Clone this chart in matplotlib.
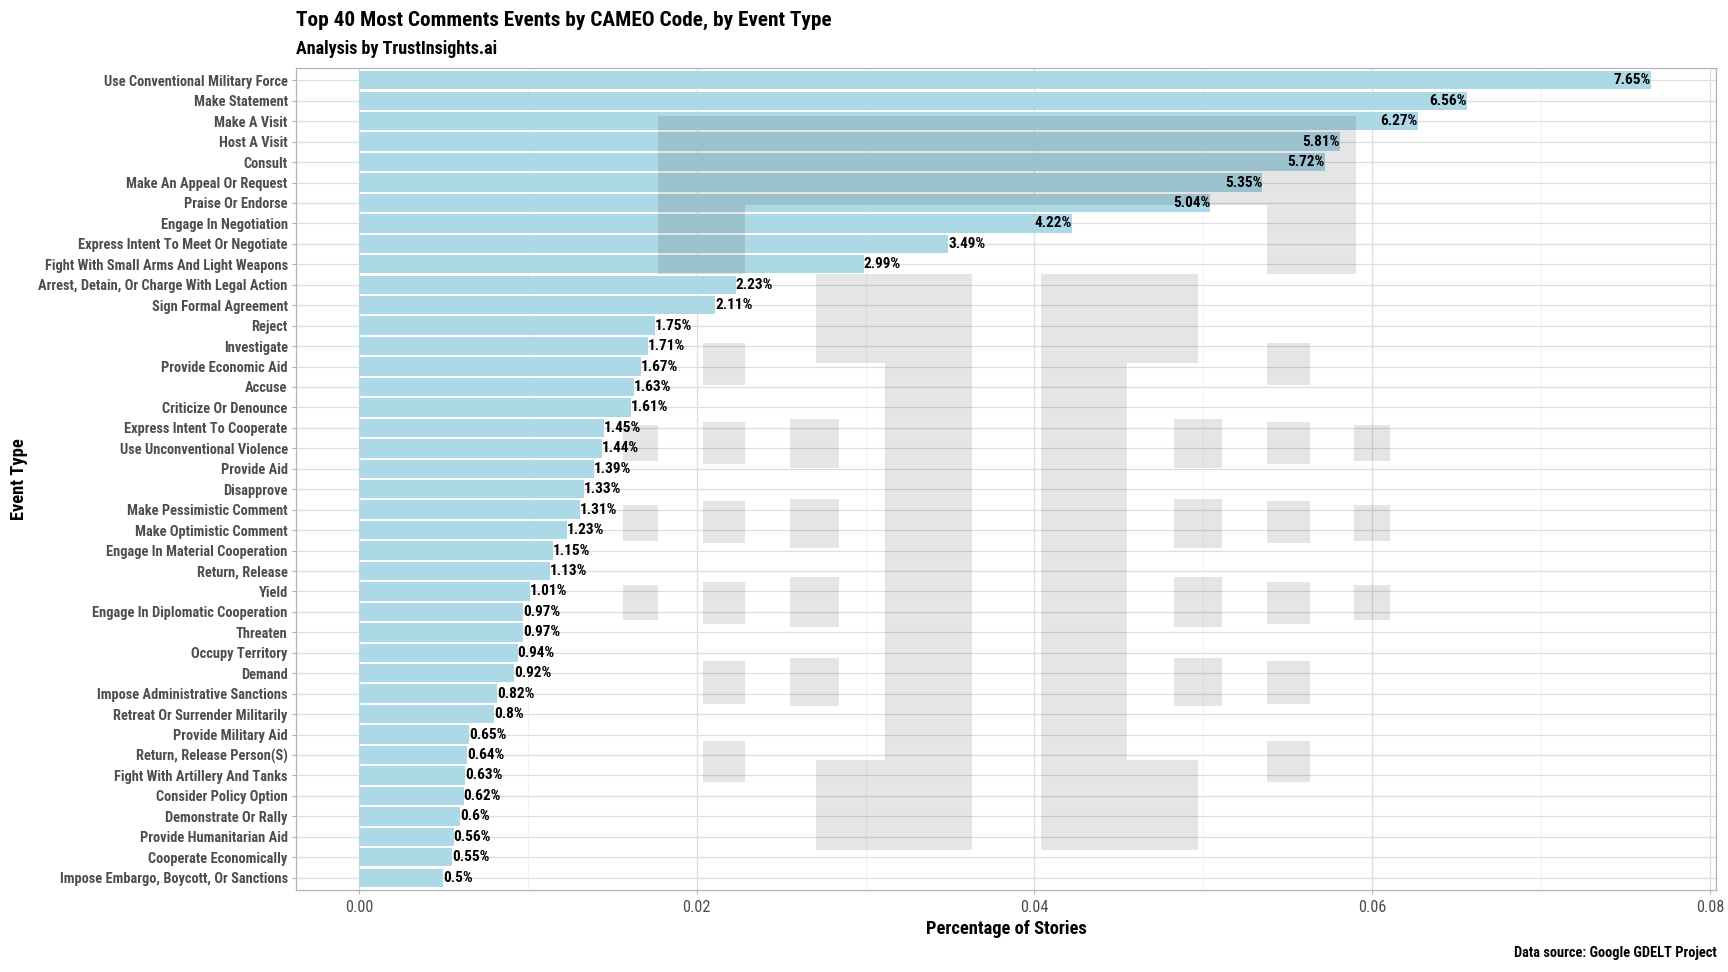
import numpy as np
import matplotlib
matplotlib.use("Agg")
import matplotlib.pyplot as plt
from matplotlib.patches import Rectangle
from matplotlib.ticker import FixedLocator

plt.rcParams['font.family'] = ['Roboto Condensed', 'Open Sans Condensed', 'Roboto', 'DejaVu Sans']

categories = [
    "Use Conventional Military Force", "Make Statement", "Make A Visit", "Host A Visit",
    "Consult", "Make An Appeal Or Request", "Praise Or Endorse", "Engage In Negotiation",
    "Express Intent To Meet Or Negotiate", "Fight With Small Arms And Light Weapons",
    "Arrest, Detain, Or Charge With Legal Action", "Sign Formal Agreement", "Reject",
    "Investigate", "Provide Economic Aid", "Accuse", "Criticize Or Denounce",
    "Express Intent To Cooperate", "Use Unconventional Violence", "Provide Aid", "Disapprove",
    "Make Pessimistic Comment", "Make Optimistic Comment", "Engage In Material Cooperation",
    "Return, Release", "Yield", "Engage In Diplomatic Cooperation", "Threaten",
    "Occupy Territory", "Demand", "Impose Administrative Sanctions",
    "Retreat Or Surrender Militarily", "Provide Military Aid", "Return, Release Person(S)",
    "Fight With Artillery And Tanks", "Consider Policy Option", "Demonstrate Or Rally",
    "Provide Humanitarian Aid", "Cooperate Economically", "Impose Embargo, Boycott, Or Sanctions",
]
values = [
    0.0765, 0.0656, 0.0627, 0.0581, 0.0572, 0.0535, 0.0504, 0.0422, 0.0349, 0.0299,
    0.0223, 0.0211, 0.0175, 0.0171, 0.0167, 0.0163, 0.0161, 0.0145, 0.0144, 0.0139,
    0.0133, 0.0131, 0.0123, 0.0115, 0.0113, 0.0101, 0.0097, 0.0097, 0.0094, 0.0092,
    0.0082, 0.0080, 0.0065, 0.0064, 0.0063, 0.0062, 0.0060, 0.0056, 0.0055, 0.0050,
]
x_ticks = [0.00, 0.02, 0.04, 0.06, 0.08]
x_tick_labels = ["0.00", "0.02", "0.04", "0.06", "0.08"]

W, H = 1728, 972
fig = plt.figure(figsize=(W / 100, H / 100), dpi=100)
fig.patch.set_facecolor("white")
renderer = fig.canvas.get_renderer()


def fit_size(text, target_px, weight="bold", base=12.0):
    t = fig.text(0, 0, text, fontsize=base, fontweight=weight)
    w = t.get_window_extent(renderer=renderer).width
    t.remove()
    return base * target_px / w


tick_fs = min(fit_size("Arrest, Detain, Or Charge With Legal Action", 249), 11.5)
bar_fs = min(fit_size("7.65%", 37), 12)
xt_fs = min(fit_size("0.00", 28, weight="normal"), 12)
title_fs = fit_size("Top 40 Most Comments Events by CAMEO Code, by Event Type", 536)
sub_fs = fit_size("Analysis by TrustInsights.ai", 201)
cap_fs = fit_size("Data source: Google GDELT Project", 203)
axt_fs = fit_size("Percentage of Stories", 162)

L, R, T, B = 296, 1716, 68, 890
ax = fig.add_axes([L / W, 1 - B / H, (R - L) / W, (B - T) / H])

xmin, xmax = -0.00373, 0.08036
mid = (xmin + xmax) / 2

n = len(categories)
y = np.arange(n)
ax.barh(y, values, height=0.9, color="#ADD8E6", zorder=2)
for yi, v in zip(y, values):
    ax.text(v, yi, f"{round(v * 100, 2):g}%", ha=("right" if v > mid else "left"),
            va="center", fontsize=bar_fs, fontweight="bold", color="black", zorder=3)

ax.set_xlim(xmin, xmax)
ax.set_ylim(n - 1 + 0.6, -0.6)
ax.set_yticks(y)
ax.set_yticklabels(categories)
ax.xaxis.set_major_locator(FixedLocator(x_ticks))
ax.set_xticklabels(x_tick_labels)
ax.xaxis.set_minor_locator(FixedLocator([0.01, 0.03, 0.05, 0.07]))

ax.grid(True, which="major", color="#DEDEDE", linewidth=0.9, zorder=0)
ax.grid(True, which="minor", axis="x", color="#EBEBEB", linewidth=0.5, zorder=0)
ax.set_axisbelow(True)
for s in ax.spines.values():
    s.set_color("#B3B3B3")
    s.set_linewidth(0.9)
ax.tick_params(axis="y", which="major", length=3, color="#B3B3B3",
               labelsize=tick_fs, labelcolor="#4D4D4D", pad=3)
ax.tick_params(axis="x", which="major", length=3, color="#B3B3B3",
               labelsize=xt_fs, labelcolor="#4D4D4D", pad=4)
ax.tick_params(axis="both", which="minor", length=0)
for lab in ax.get_yticklabels():
    lab.set_fontweight("bold")

ax.set_xlabel("Percentage of Stories", fontsize=axt_fs, fontweight="bold", labelpad=4)
ax.set_ylabel("Event Type", fontsize=axt_fs, fontweight="bold")
ax.yaxis.set_label_coords(28 / W, 1 - ((T + B) / 2) / H, transform=fig.transFigure)

fig.text(L / W, 1 - 26 / H, "Top 40 Most Comments Events by CAMEO Code, by Event Type",
         fontsize=title_fs, fontweight="bold", ha="left", va="baseline")
fig.text(L / W, 1 - 54 / H, "Analysis by TrustInsights.ai",
         fontsize=sub_fs, fontweight="bold", ha="left", va="baseline")
fig.text(1717 / W, 1 - 957 / H, "Data source: Google GDELT Project",
         fontsize=cap_fs, fontweight="bold", ha="right", va="baseline")

# Watermark logo (decoration), in reference pixel coordinates of the shrunk view
sc = 1728 / 1568
logo = [
    (597, 1230, 105, 186), (597, 676, 186, 249), (1150, 1230, 186, 249),
    (740, 882, 249, 329), (803, 882, 329, 690), (740, 882, 690, 771),
    (945, 1087, 249, 329), (945, 1023, 329, 690), (945, 1087, 690, 771),
]
rowsA = [(386, 418), (458, 491), (531, 563)]
rowsB = [(311, 349), (383, 421), (455, 493), (528, 566), (600, 639), (672, 710)]
rowsC = [(380, 425), (453, 497), (524, 569), (597, 641)]
for (x0, x1), rows in [((565, 597), rowsA), ((638, 676), rowsB), ((717, 761), rowsC),
                        ((1065, 1109), rowsC), ((1150, 1189), rowsB), ((1229, 1261), rowsA)]:
    for (y0, y1) in rows:
        logo.append((x0, x1, y0, y1))
for (x0, x1, y0, y1) in logo:
    X0, X1, Y0, Y1 = x0 * sc, x1 * sc, y0 * sc, y1 * sc
    fig.add_artist(Rectangle((X0 / W, 1 - Y1 / H), (X1 - X0) / W, (Y1 - Y0) / H,
                             transform=fig.transFigure, facecolor="black",
                             alpha=0.1, edgecolor="none", zorder=5))

fig.savefig("out.png", dpi=100)
